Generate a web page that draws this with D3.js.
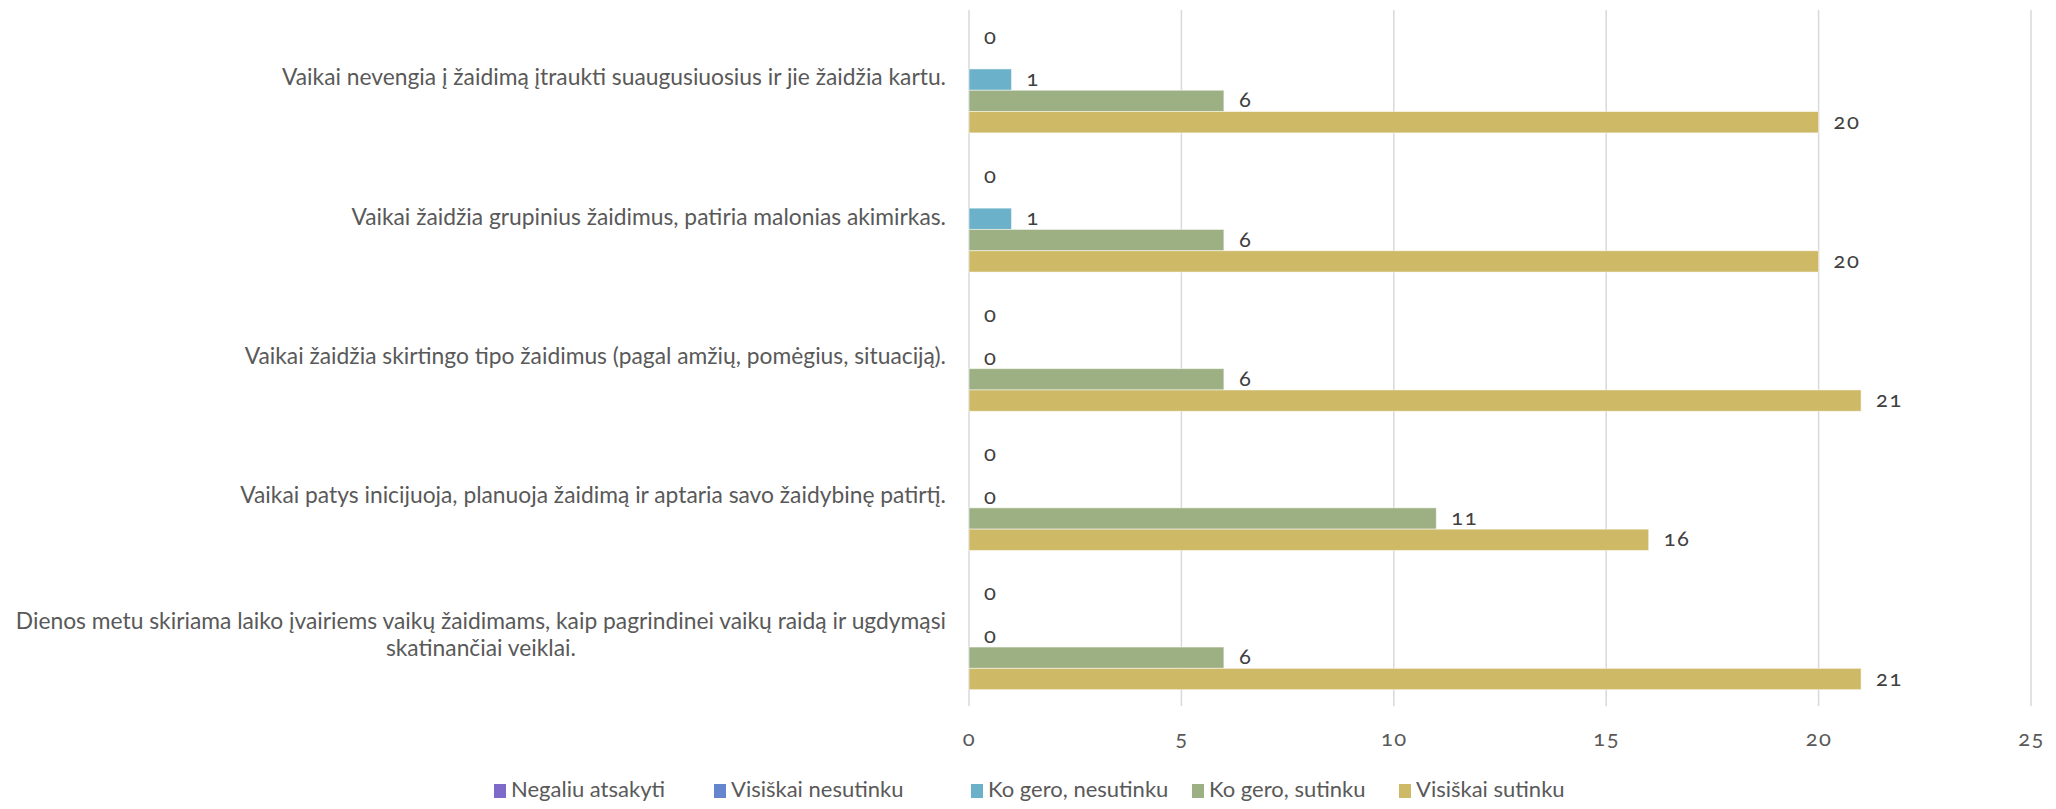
<!DOCTYPE html>
<html>
<head>
<meta charset="utf-8">
<script src="https://cdn.jsdelivr.net/npm/d3@7"></script>
<style>
  html, body { margin: 0; padding: 0; background: #fff; }
  svg text { font-family: Lato, "Open Sans", sans-serif; font-variant-numeric: oldstyle-nums; }
</style>
</head>
<body>
<svg id="chart" width="2056" height="809"></svg>
<script>
const categories = [
  "Vaikai nevengia į žaidimą įtraukti suaugusiuosius ir jie žaidžia kartu.",
  "Vaikai žaidžia grupinius žaidimus, patiria malonias akimirkas.",
  "Vaikai žaidžia skirtingo tipo žaidimus (pagal amžių, pomėgius, situaciją).",
  "Vaikai patys inicijuoja, planuoja žaidimą ir aptaria savo žaidybinę patirtį.",
  "Dienos metu skiriama laiko įvairiems vaikų žaidimams, kaip pagrindinei vaikų raidą ir ugdymąsi skatinančiai veiklai."
];
const categoryLines = [
  ["Vaikai nevengia į žaidimą įtraukti suaugusiuosius ir jie žaidžia kartu."],
  ["Vaikai žaidžia grupinius žaidimus, patiria malonias akimirkas."],
  ["Vaikai žaidžia skirtingo tipo žaidimus (pagal amžių, pomėgius, situaciją)."],
  ["Vaikai patys inicijuoja, planuoja žaidimą ir aptaria savo žaidybinę patirtį."],
  ["Dienos metu skiriama laiko įvairiems vaikų žaidimams, kaip pagrindinei vaikų raidą ir ugdymąsi", "skatinančiai veiklai."]
];
const seriesNames = ["Negaliu atsakyti", "Visiškai nesutinku", "Ko gero, nesutinku", "Ko gero, sutinku", "Visiškai sutinku"];
const negaliuAtsakyti   = [0, 0, 0, 0, 0];
const visiskaiNesutinku = [null, null, null, null, null];
const koGeroNesutinku   = [1, 1, 0, 0, 0];
const koGeroSutinku     = [6, 6, 6, 11, 6];
const visiskaiSutinku   = [20, 20, 21, 16, 21];
const xTicks = [0, 5, 10, 15, 20, 25];
const seriesColors = ["#7E6BC9", "#6585CF", "#6BB1C9", "#9CB084", "#CEB966"];

const seriesValues = [negaliuAtsakyti, visiskaiNesutinku, koGeroNesutinku, koGeroSutinku, visiskaiSutinku];

const svg = d3.select("#chart");
const plot = { left: 969, right: 2031, top: 10, bottom: 706 };

const x = d3.scaleLinear().domain([0, 25]).range([plot.left, plot.right]);
const y0 = d3.scaleBand().domain(d3.range(categories.length)).range([plot.top, plot.bottom]).padding(0);
const y1 = d3.scaleBand().domain(d3.range(seriesNames.length)).range([0, y0.bandwidth()]).paddingInner(0).paddingOuter(0.767);

// gridlines
svg.append("g").selectAll("line").data(xTicks).join("line")
  .attr("x1", d => x(d)).attr("x2", d => x(d))
  .attr("y1", plot.top).attr("y2", plot.bottom)
  .attr("stroke", "#d9d9d9").attr("stroke-width", 1.5);

// x tick labels via axis
const xAxis = d3.axisBottom(x).tickValues(xTicks).tickSize(0).tickPadding(0).tickFormat(d3.format("d"));
const gx = svg.append("g").attr("transform", `translate(0, ${plot.bottom})`).call(xAxis);
gx.select(".domain").remove();
gx.selectAll("text").attr("dy", null).attr("y", 34).attr("dominant-baseline", "middle")
  .style("font-size", "22px").style("letter-spacing", "1.5px").style("fill", "#595959")
  .style("font-family", "Lato, sans-serif").style("font-variant-numeric", "oldstyle-nums");

// bars
const rows = [];
categories.forEach((c, ci) => {
  seriesValues.forEach((vals, si) => {
    rows.push({ ci, si, v: vals[ci] });
  });
});

const barG = svg.append("g");
barG.selectAll("rect").data(rows.filter(d => d.v !== null && d.v > 0)).join("rect")
  .attr("x", x(0))
  .attr("y", d => y0(d.ci) + y1(d.si))
  .attr("width", d => x(d.v) - x(0))
  .attr("height", y1.bandwidth())
  .attr("fill", d => seriesColors[d.si])
  .attr("stroke", "#ffffff").attr("stroke-opacity", 0.5).attr("stroke-width", 1);

// data labels
svg.append("g").selectAll("text").data(rows.filter(d => d.v !== null)).join("text")
  .attr("x", d => x(d.v) + 15)
  .attr("y", d => y0(d.ci) + y1(d.si) + y1.bandwidth() / 2 + 1)
  .attr("dominant-baseline", "middle")
  .style("font-size", "22px").style("letter-spacing", "1.5px").style("fill", "#404040")
  .text(d => d.v);

// category labels
const catG = svg.append("g");
categoryLines.forEach((lines, ci) => {
  const cy = y0(ci) + y0.bandwidth() / 2;
  const lh = 27;
  const g = catG.append("g");
  const texts = g.selectAll("text").data(lines).join("text")
    .attr("y", (d, i) => cy + (i - (lines.length - 1) / 2) * lh)
    .attr("dominant-baseline", "middle")
    .style("font-size", "22.8px").style("fill", "#595959")
    .text(d => d);
  let maxW = 0;
  texts.each(function () { maxW = Math.max(maxW, this.getComputedTextLength()); });
  const rightEdge = 946;
  texts.attr("text-anchor", "middle").attr("x", rightEdge - maxW / 2);
});

// legend
const legendX = [494, 714, 971, 1192, 1399];
const legend = svg.append("g");
const items = legend.selectAll("g").data(seriesNames).join("g")
  .attr("transform", (d, i) => `translate(${legendX[i]}, 791)`);
items.append("rect").attr("width", 12).attr("height", 14).attr("y", -7)
  .attr("fill", (d, i) => seriesColors[i]);
items.append("text").attr("x", 17).attr("dominant-baseline", "middle")
  .style("font-size", "22px").style("fill", "#595959").text(d => d);
</script>
</body>
</html>
